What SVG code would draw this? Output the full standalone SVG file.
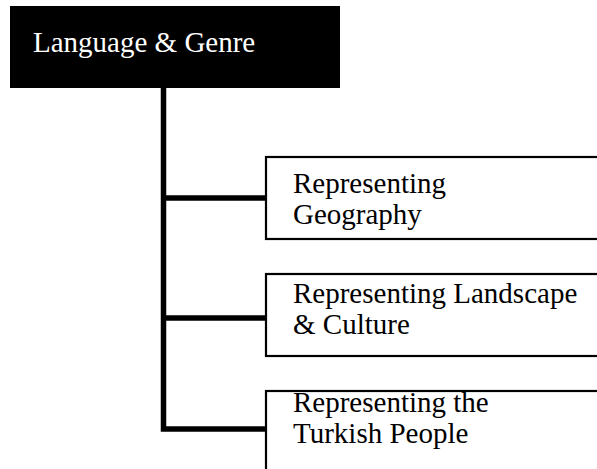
<svg xmlns="http://www.w3.org/2000/svg" width="597" height="469" viewBox="0 0 597 469">
<style>
.t{font-family:"Liberation Serif","DejaVu Serif",serif;font-size:29px;fill:#000}
.w{fill:#fff}
.box{fill:#fff;stroke:#000;stroke-width:2.2}
.con{fill:none;stroke:#000;stroke-width:5.5;stroke-linecap:butt;stroke-linejoin:miter}
</style>
<rect width="597" height="469" fill="#fff"/>
<g id="connectors">
<path class="con" d="M163.5,88 V429 H266"/>
<path class="con" d="M163.5,198 H266"/>
<path class="con" d="M163.5,318 H266"/>
</g>
<g id="root">
<rect x="10" y="6" width="330" height="82" fill="#000"/>
<text class="t w" x="33" y="52">Language &amp; Genre</text>
</g>
<g id="geo">
<rect class="box" x="266" y="157" width="345" height="82"/>
<text class="t" x="293" y="193">Representing</text>
<text class="t" x="293" y="224">Geography</text>
</g>
<g id="landscape">
<rect class="box" x="266" y="274" width="345" height="82"/>
<text class="t" x="293" y="303">Representing Landscape</text>
<text class="t" x="293" y="334">&amp; Culture</text>
</g>
<g id="people">
<rect class="box" x="266" y="391" width="345" height="100"/>
<text class="t" x="293" y="412">Representing the</text>
<text class="t" x="293" y="443">Turkish People</text>
</g>
</svg>
